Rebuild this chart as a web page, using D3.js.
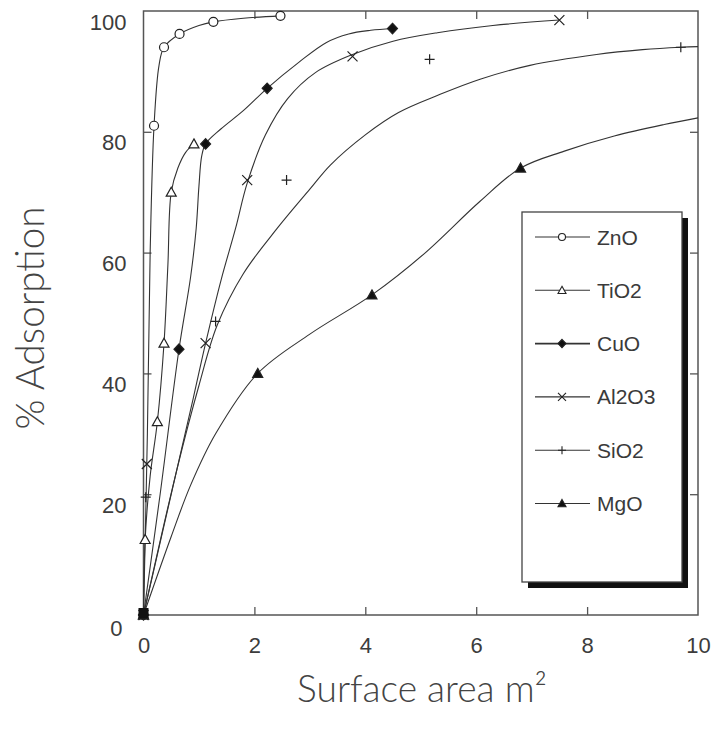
<!DOCTYPE html>
<html>
<head>
<meta charset="utf-8">
<script src="https://cdn.jsdelivr.net/npm/d3@7"></script>
<style>
  html,body{margin:0;padding:0;background:#fff;}
  svg{display:block;}
</style>
</head>
<body>
<svg id="chart" width="718" height="734"></svg>
<script>
// ---------- data ----------
const xTicks = [0, 2, 4, 6, 8, 10];
const yTicks = [0, 20, 40, 60, 80, 100];
const seriesNames = ["ZnO", "TiO2", "CuO", "Al2O3", "SiO2", "MgO"];

// marker points
const znoPts   = [[0,0],[0.19,81],[0.37,94],[0.65,96.2],[1.26,98.2],[2.47,99.2]];
const tio2Pts  = [[0,0],[0.03,12.5],[0.25,32],[0.37,45],[0.5,70],[0.91,78]];
const cuoPts   = [[0,0],[0.64,44],[1.12,78],[2.23,87.2],[4.49,97.1]];
const al2o3Pts = [[0,0],[0.06,25],[1.12,45],[1.87,72],[3.77,92.5],[7.5,98.5]];
const sio2Pts  = [[0,0],[0.04,19.5],[1.3,48.6],[2.58,72],[5.16,92],[9.69,94]];
const mgoPts   = [[0,0],[2.06,40],[4.12,53],[6.8,74]];

// fitted curves
const znoCurve   = [[0,0],[0.07,30],[0.12,60],[0.19,81],[0.28,91],[0.37,94],[0.65,96.2],[1.0,97.6],[1.26,98.2],[1.8,98.8],[2.47,99.2]];
const tio2Curve  = [[0,0],[0.03,12.5],[0.12,23],[0.25,32],[0.37,45],[0.44,58],[0.5,70],[0.62,74],[0.76,76.6],[0.91,78]];
const cuoCurve   = [[0,0],[0.3,20],[0.64,44],[0.85,56],[0.95,64],[1.0,71],[1.05,76],[1.12,78],[1.4,80.5],[1.8,83.5],[2.23,87.2],[2.8,91.5],[3.3,94.8],[3.7,96.2],[4.1,96.8],[4.49,97.1]];
const al2o3Curve = [[0,0],[0.35,14],[0.65,26],[0.9,36],[1.12,45],[1.4,55.5],[1.66,64],[1.87,71.5],[2.2,79.5],[2.6,85.5],[3.1,89.8],[3.77,92.8],[4.5,95],[5.3,96.4],[6.3,97.6],[7.5,98.5]];
const sio2Curve  = [[0,0],[0.6,24],[1.0,38],[1.33,48],[1.8,56.5],[2.41,64],[3.0,70.5],[3.37,74.5],[4.0,79.5],[4.6,83.2],[5.35,86.2],[6.07,88.7],[6.97,91],[8.17,92.8],[9.0,93.6],[9.69,94],[10,94.1]];
const mgoCurve   = [[0,0],[0.5,13],[0.85,21.5],[1.3,30],[2.06,40],[3.0,46.5],[4.12,53],[5.06,59.8],[6.07,68.5],[6.8,74],[7.59,76.8],[8.49,79.3],[9.39,81.2],[10,82.3]];

// ---------- setup ----------
const svg = d3.select("#chart");
const x = d3.scaleLinear().domain([0, 10]).range([143.5, 698]);
const y = d3.scaleLinear().domain([0, 100]).range([615, 11]);

const ink = "#3c3c3c";
const frame = "#555";

// frame
svg.append("rect")
  .attr("x", x(0)).attr("y", y(100))
  .attr("width", x(10) - x(0)).attr("height", y(0) - y(100))
  .attr("fill", "none").attr("stroke", frame).attr("stroke-width", 1.5);

// axes
const tickFont = "Liberation Sans, Arial, sans-serif";
const gB = svg.append("g").attr("transform", `translate(0,${y(0)})`)
  .call(d3.axisBottom(x).tickValues(xTicks).tickSize(-8).tickPadding(22));
const gL = svg.append("g").attr("transform", `translate(${x(0)},0)`)
  .call(d3.axisLeft(y).tickValues(yTicks).tickSize(-8).tickPadding(17));
const gT = svg.append("g").attr("transform", `translate(0,${y(100)})`)
  .call(d3.axisTop(x).tickValues([2,4,6,8]).tickSize(-8).tickFormat(""));
const gR = svg.append("g").attr("transform", `translate(${x(10)},0)`)
  .call(d3.axisRight(y).tickValues([20,40,60,80]).tickSize(-8).tickFormat(""));

[gB, gL, gT, gR].forEach(g => {
  g.select(".domain").remove();
  g.selectAll(".tick line").attr("stroke", frame).attr("stroke-width", 1.3);
  g.selectAll(".tick text").attr("font-family", tickFont).attr("font-size", 22).attr("fill", ink);
});
gB.selectAll(".tick").filter(d => d === 0 || d === 10).select("line").remove();
gL.selectAll(".tick").filter(d => d === 0 || d === 100).select("line").remove();
gL.selectAll(".tick text").attr("transform", "translate(0,11)");
gL.selectAll(".tick").filter(d => d === 0).select("text").attr("transform", "translate(-4,13)");

// ---------- marker shapes ----------
function shapePath(type, s) {
  const h = s / 2;
  switch (type) {
    case "circle":
      return `M${h},0A${h},${h},0,1,1,${-h},0A${h},${h},0,1,1,${h},0Z`;
    case "triangle": {
      const t = s * 0.5;
      return `M0,${-t}L${t},${t*0.8}L${-t},${t*0.8}Z`;
    }
    case "diamond":
      return `M0,${-h*1.05}L${h},0L0,${h*1.05}L${-h},0Z`;
    case "x":
      return `M${-h},${-h}L${h},${h}M${-h},${h}L${h},${-h}`;
    case "plus":
      return `M${-h},0L${h},0M0,${-h}L0,${h}`;
  }
}

const series = [
  {name: seriesNames[0], pts: znoPts,   curve: znoCurve,   shape: "circle",   fill: "#fff"},
  {name: seriesNames[1], pts: tio2Pts,  curve: tio2Curve,  shape: "triangle", fill: "#fff"},
  {name: seriesNames[2], pts: cuoPts,   curve: cuoCurve,   shape: "diamond",  fill: "#111"},
  {name: seriesNames[3], pts: al2o3Pts, curve: al2o3Curve, shape: "x",        fill: "none"},
  {name: seriesNames[4], pts: sio2Pts,  curve: sio2Curve,  shape: "plus",     fill: "none"},
  {name: seriesNames[5], pts: mgoPts,   curve: mgoCurve,   shape: "triangle", fill: "#111"}
];

const line = d3.line().x(d => x(d[0])).y(d => y(d[1])).curve(d3.curveCatmullRom.alpha(0.5));

const plot = svg.append("g");
series.forEach(s => {
  plot.append("path")
    .attr("d", line(s.curve))
    .attr("fill", "none")
    .attr("stroke", "#333")
    .attr("stroke-width", 1.1);
});
series.forEach(s => {
  plot.selectAll(null).data(s.pts).enter().append("path")
    .attr("transform", d => `translate(${x(d[0])},${y(d[1])})`)
    .attr("d", shapePath(s.shape, s.shape === "circle" ? 9 : 10))
    .attr("fill", s.fill)
    .attr("stroke", "#222")
    .attr("stroke-width", 1.2);
});
// origin blob (overlapping filled markers)
plot.append("rect").attr("x", x(0) - 5).attr("y", y(0) - 7).attr("width", 10).attr("height", 10).attr("fill", "#111");

// ---------- legend ----------
const lg = {x: 522, y: 212, w: 160, h: 370};
svg.append("rect").attr("x", lg.x + 6).attr("y", lg.y + 6).attr("width", lg.w).attr("height", lg.h).attr("fill", "#111");
svg.append("rect").attr("x", lg.x).attr("y", lg.y).attr("width", lg.w).attr("height", lg.h)
  .attr("fill", "#fff").attr("stroke", "#444").attr("stroke-width", 1.3);

series.forEach((s, i) => {
  const cy = 237 + i * 53.3;
  svg.append("line").attr("x1", 535).attr("x2", 590).attr("y1", cy).attr("y2", cy)
    .attr("stroke", "#333").attr("stroke-width", s.name === "CuO" ? 1.6 : 1.1);
  svg.append("path").attr("transform", `translate(562,${cy})`)
    .attr("d", shapePath(s.shape, s.shape === "circle" ? 7 : 8))
    .attr("fill", s.fill).attr("stroke", "#222").attr("stroke-width", 1.1);
  svg.append("text").attr("x", 597).attr("y", cy).attr("dy", "0.36em")
    .attr("font-family", tickFont).attr("font-size", 21).attr("fill", "#3a3a3a")
    .text(s.name);
});

// ---------- titles ----------
const titleFont = "Lato, 'Open Sans', sans-serif";
function fitText(t, target) {
  const len = t.node().getComputedTextLength();
  const fs = +t.attr("font-size");
  t.attr("font-size", fs * target / len);
}
const xt = svg.append("text").attr("x", 422).attr("y", 702).attr("text-anchor", "middle")
  .attr("font-family", titleFont).attr("font-weight", 300).attr("font-size", 30).attr("fill", "#444")
  .text("Surface area m²");
fitText(xt, 250);
const yt = svg.append("text").attr("transform", "translate(44,318) rotate(-90)").attr("text-anchor", "middle")
  .attr("font-family", titleFont).attr("font-weight", 300).attr("font-size", 30).attr("fill", "#444")
  .text("% Adsorption");
fitText(yt, 223);
</script>
</body>
</html>
